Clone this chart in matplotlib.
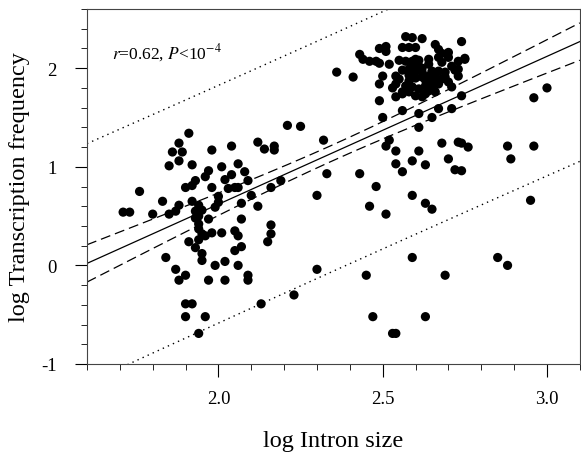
import numpy as np
import matplotlib
matplotlib.use('Agg')
import matplotlib.pyplot as plt
from matplotlib.ticker import MultipleLocator

log_intron = [
    1.71, 1.73, 1.76, 1.80, 1.83, 1.84, 1.85, 1.85, 1.86, 1.89,
    1.88, 1.91, 1.88, 1.92, 1.87, 1.88, 1.87, 1.88, 1.90, 1.90,
    1.92, 1.90, 1.94, 1.96, 1.90, 1.92, 1.93, 1.92, 1.93, 1.94,
    1.95, 1.94, 1.93, 1.94, 1.94, 1.95, 1.96, 1.97, 1.98, 1.91,
    1.94, 1.93, 1.95, 1.95, 1.97, 1.99, 1.96, 1.97, 1.98, 1.98,
    1.99, 2.00, 2.00, 2.01, 2.01, 2.02, 2.02, 2.02, 2.03, 2.05,
    2.06, 2.04, 2.04, 2.06, 2.08, 2.09, 2.07, 2.07, 2.05, 2.06,
    2.05, 2.07, 2.06, 2.09, 2.09, 2.10, 2.12, 2.12, 2.14, 2.17,
    2.17, 2.13, 2.15, 2.16, 2.16, 2.16, 2.19, 2.21, 2.25, 2.23,
    2.30, 2.30, 2.32, 2.33, 2.36, 2.41, 2.43,
    2.43, 2.44, 2.46, 2.48, 2.49, 2.49, 2.51, 2.51, 2.57, 2.59,
    2.62, 2.56, 2.58, 2.60, 2.66, 2.67, 2.68, 2.70, 2.70, 2.74,
    2.75, 2.73, 2.52, 2.55, 2.57, 2.59, 2.61, 2.64, 2.67, 2.68,
    2.71, 2.72, 2.50, 2.49, 2.54, 2.55, 2.54, 2.58, 2.60, 2.62,
    2.59, 2.61, 2.62, 2.64, 2.65, 2.67, 2.69, 2.68, 2.66, 2.73,
    2.57, 2.59, 2.61, 2.63, 2.65, 2.67, 2.56, 2.60, 2.62, 2.66,
    2.54, 2.56, 2.71, 2.49, 2.74, 2.56, 2.50, 2.61, 2.67, 2.71,
    2.65, 2.61, 2.58, 2.64, 2.60, 2.75, 2.73,
    2.58, 2.60, 2.63, 2.62, 2.65, 2.58, 2.63, 2.69, 2.56, 2.64,
    2.70, 2.53,
    2.96, 3.00, 2.52, 2.51, 2.54, 2.61, 2.68, 2.73, 2.74, 2.76,
    2.54, 2.59, 2.63, 2.70, 2.56, 2.72, 2.74, 2.88, 2.96, 2.89,
    2.48, 2.46, 2.51, 2.59, 2.63, 2.65, 2.95, 2.45, 2.59, 2.69,
    2.85, 2.88, 2.47, 2.63, 2.53, 2.54,
]
log_freq = [
    0.54, 0.54, 0.75, 0.52, 0.65, 0.08, 1.01, 0.52, 1.15, 1.15,
    1.24, 1.34, 1.06, 1.02, 0.55, 0.61, -0.04, -0.15, -0.10, -0.39,
    -0.39, -0.52, -0.69, -0.52, 0.79, 0.81, 0.86, 0.65, 0.55, 0.61,
    0.56, 0.50, 0.48, 0.42, 0.37, 0.32, 0.30, 0.47, 0.33, 0.24,
    0.26, 0.18, 0.12, 0.05, -0.15, 0.00, 0.90, 0.96, 1.17, 0.79,
    0.59, 0.70, 0.64, 0.33, 1.00, 0.04, -0.15, 0.87, 0.78, 0.79,
    0.79, 0.92, 1.21, 1.03, 0.95, 0.86, 0.63, 0.47, 0.35, 0.30,
    0.15, 0.19, 0.00, -0.10, -0.15, 0.71, 0.60, 1.25, 1.18, 1.21,
    1.17, -0.39, 0.24, 0.32, 0.41, 0.79, 0.86, 1.42, 1.41, -0.30,
    0.71, -0.04, 1.27, 0.93, 1.96, 1.91, 0.93,
    2.14, 2.09, 2.07, 2.07, 2.05, 2.20, 2.22, 2.17, 2.32, 2.31,
    2.30, 2.21, 2.21, 2.21, 2.24, 2.19, 2.15, 2.16, 2.11, 2.27,
    2.09, 2.07, 2.04, 2.08, 2.07, 2.07, 2.08, 2.09, 2.11, 2.06,
    2.02, 1.98, 1.92, 1.84, 1.92, 1.89, 1.84, 1.99, 1.97, 1.96,
    2.02, 2.02, 1.91, 1.92, 1.87, 1.97, 1.96, 1.89, 1.92, 1.92,
    1.82, 1.81, 1.79, 1.82, 1.81, 1.84, 1.76, 1.72, 1.71, 1.76,
    1.71, 1.74, 1.81, 1.67, 1.72, 1.57, 1.50, 1.54, 1.59, 1.59,
    1.50, 1.40, 1.87, 1.77, 2.09, 2.10, 1.99,
    1.93, 1.90, 1.88, 2.00, 1.97, 1.76, 1.74, 1.91, 1.98, 2.04,
    1.86, 1.80,
    1.70, 1.80, 1.27, 1.21, 1.16, 1.16, 1.24, 1.25, 1.24, 1.20,
    1.03, 1.06, 1.02, 1.08, 0.95, 0.97, 0.96, 1.21, 1.21, 1.08,
    0.80, 0.60, 0.52, 0.71, 0.63, 0.57, 0.66, -0.10, 0.08, -0.10,
    0.08, 0.00, -0.52, -0.52, -0.69, -0.69,
]

# regression
fit_slope = 1.5
fit_icpt = -2.38
resid_t = 1.2      # t * residual sd
x_mean = 2.35
sxx = 27.6

plt.rcParams['font.family'] = ['Liberation Serif', 'DejaVu Serif']
plt.rcParams['mathtext.fontset'] = 'stix'

fig = plt.figure(figsize=(5.81, 4.56), dpi=100)
ax = fig.add_axes([0.1497, 0.1996, 0.8483, 0.7784])

x = np.array(log_intron)
y = np.array(log_freq)
n = len(x)

xs = np.linspace(1.6, 3.1, 200)
yfit = fit_slope * xs + fit_icpt
ci = resid_t * np.sqrt(1.0 / n + (xs - x_mean) ** 2 / sxx)
pi = resid_t * np.sqrt(1 + 1.0 / n + (xs - x_mean) ** 2 / sxx)

ax.plot(xs, yfit, color='black', lw=0.9)
ax.plot(xs, yfit + ci, color='black', lw=0.9, dashes=(8, 4))
ax.plot(xs, yfit - ci, color='black', lw=0.9, dashes=(8, 4))
ax.plot(xs, yfit + pi, color='black', lw=1.0, linestyle=(0, (1, 3)))
ax.plot(xs, yfit - pi, color='black', lw=1.0, linestyle=(0, (1, 3)))

ax.scatter(x, y, s=44, color='black', edgecolors='none', zorder=3)

ax.set_xlim(1.6, 3.1)
ax.set_ylim(-1, 2.6)
ax.xaxis.set_minor_locator(MultipleLocator(0.1))
ax.yaxis.set_minor_locator(MultipleLocator(0.2))
ax.set_xticks([2.0, 2.5, 3.0])
ax.set_xticklabels(['2.0', '2.5', '3.0'])
ax.set_yticks([-1, 0, 1, 2])
ax.set_yticklabels(['-1', '0', '1', '2'])
ax.tick_params(which='major', direction='out', length=9, width=0.8, labelsize=13.5)
ax.tick_params(axis='x', which='major', pad=10)
ax.tick_params(axis='y', which='major', pad=13)
ax.tick_params(which='minor', direction='out', length=4, width=0.6)
for sp in ax.spines.values():
    sp.set_linewidth(0.8)
    sp.set_color('#444444')

ax.set_xlabel('log Intron size', fontsize=17.5, labelpad=16)
ax.set_ylabel('log Transcription frequency', fontsize=17.5, labelpad=8)

ax.text(0.05, 0.878, r'$\mathit{r}$=0.62, $\mathit{P}$<10$^{-4}$', transform=ax.transAxes,
        fontsize=12.5, va='center', ha='left')

fig.savefig('out.png', dpi=100)
